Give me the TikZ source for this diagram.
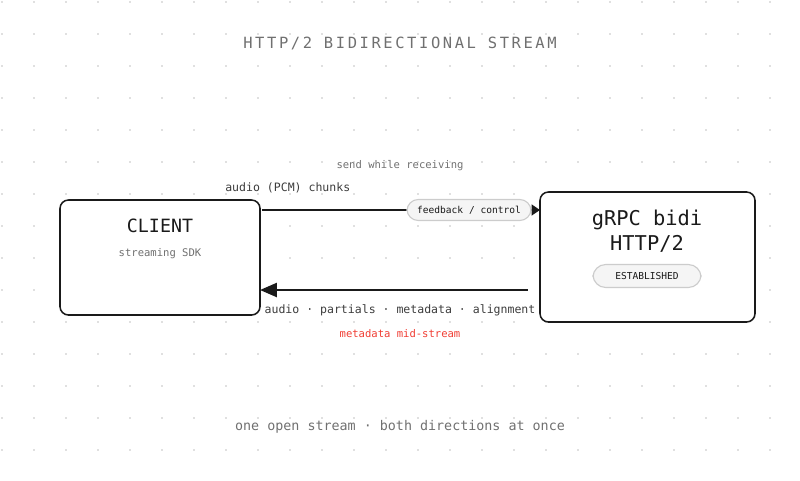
\documentclass[tikz,border=0pt]{standalone}
\usepackage{fontspec}
\setmonofont{DejaVu Sans Mono}
\usetikzlibrary{positioning,arrows.meta}
\definecolor{ink}{HTML}{1A1A1A}
\definecolor{mute}{HTML}{707070}
\definecolor{alert}{HTML}{F03C32}
\begin{document}
\begin{tikzpicture}[x=0.025cm,y=-0.025cm,
    box/.style={rectangle, draw=ink, line width=1.1pt, rounded corners=6pt, fill=white, inner sep=0pt},
    pill/.style={rectangle, draw=black!20, line width=0.8pt, rounded corners=8pt, fill=black!4,
                 font=\ttfamily\fontsize{6.8}{8}\selectfont, text=ink},
    lbl/.style={font=\ttfamily\fontsize{8.2}{10}\selectfont, text=#1},
    arr/.style={-{Triangle[length=#1]}, line width=1.4pt, draw=ink}
  ]
  \useasboundingbox (0,0) rectangle (800,480);

  % Dot grid
  \foreach \i in {0,...,25}
    \foreach \j in {0,...,15}
      \fill[black!12] (1+32*\i,1+32*\j) rectangle ++(1.5,1.5);

  % Title
  \node[font=\ttfamily\fontsize{11}{12}\selectfont, text=mute] (title) at (400,43)
    {H\,T\,T\,P\,/\,2\, B\,I\,D\,I\,R\,E\,C\,T\,I\,O\,N\,A\,L\, S\,T\,R\,E\,A\,M};

  % Endpoints
  \node[box, minimum width=200*0.025cm, minimum height=115*0.025cm] (client) at (160,257.5) {};
  \node[font=\ttfamily\fontsize{13}{15}\selectfont, text=ink] (cname) at (160,226) {CLIENT};
  \node[lbl=mute, font=\ttfamily\fontsize{7.5}{9}\selectfont] (csub) at (160,254) {streaming SDK};

  \node[box, minimum width=215*0.025cm, minimum height=130*0.025cm] (server) at (647.5,257) {};
  \node[font=\ttfamily\fontsize{14.5}{18}\selectfont, text=ink, align=center] (sname) at (647,231) {gRPC bidi\\HTTP/2};
  \node[pill, minimum width=108*0.025cm, minimum height=23*0.025cm, rounded corners=9pt] (state) at (647,276) {ESTABLISHED};

  % Connectors
  \coordinate (up0) at (262,210);
  \coordinate (up1) at (540,210);
  \coordinate (dn0) at (528,290);
  \coordinate (dn1) at (260,290);
  \draw[arr=6pt] (up0) -- (up1);
  \draw[{Triangle[length=12pt,width=10pt]}-, line width=1.4pt, draw=ink] (dn1) -- (dn0);
  \node[pill, minimum width=124*0.025cm, minimum height=21*0.025cm] (fb) at (469,210) {feedback / control};

  % Labels
  \node[lbl=mute, font=\ttfamily\fontsize{7.5}{9}\selectfont] (send) at (400,166) {send while receiving};
  \node[lbl=ink!85, anchor=west, inner sep=0pt] (chunks) at (225,188) {audio (PCM) chunks};
  \node[lbl=ink!85] (back) at (400,310) {audio \textperiodcentered{} partials \textperiodcentered{} metadata \textperiodcentered{} alignment};
  \node[lbl=alert, font=\ttfamily\fontsize{7.5}{9}\selectfont] (mid) at (400,334) {metadata mid-stream};
  \node[lbl=mute, font=\ttfamily\fontsize{9.5}{11}\selectfont] (foot) at (400,427) {one open stream \textperiodcentered{} both directions at once};
\end{tikzpicture}
\end{document}
